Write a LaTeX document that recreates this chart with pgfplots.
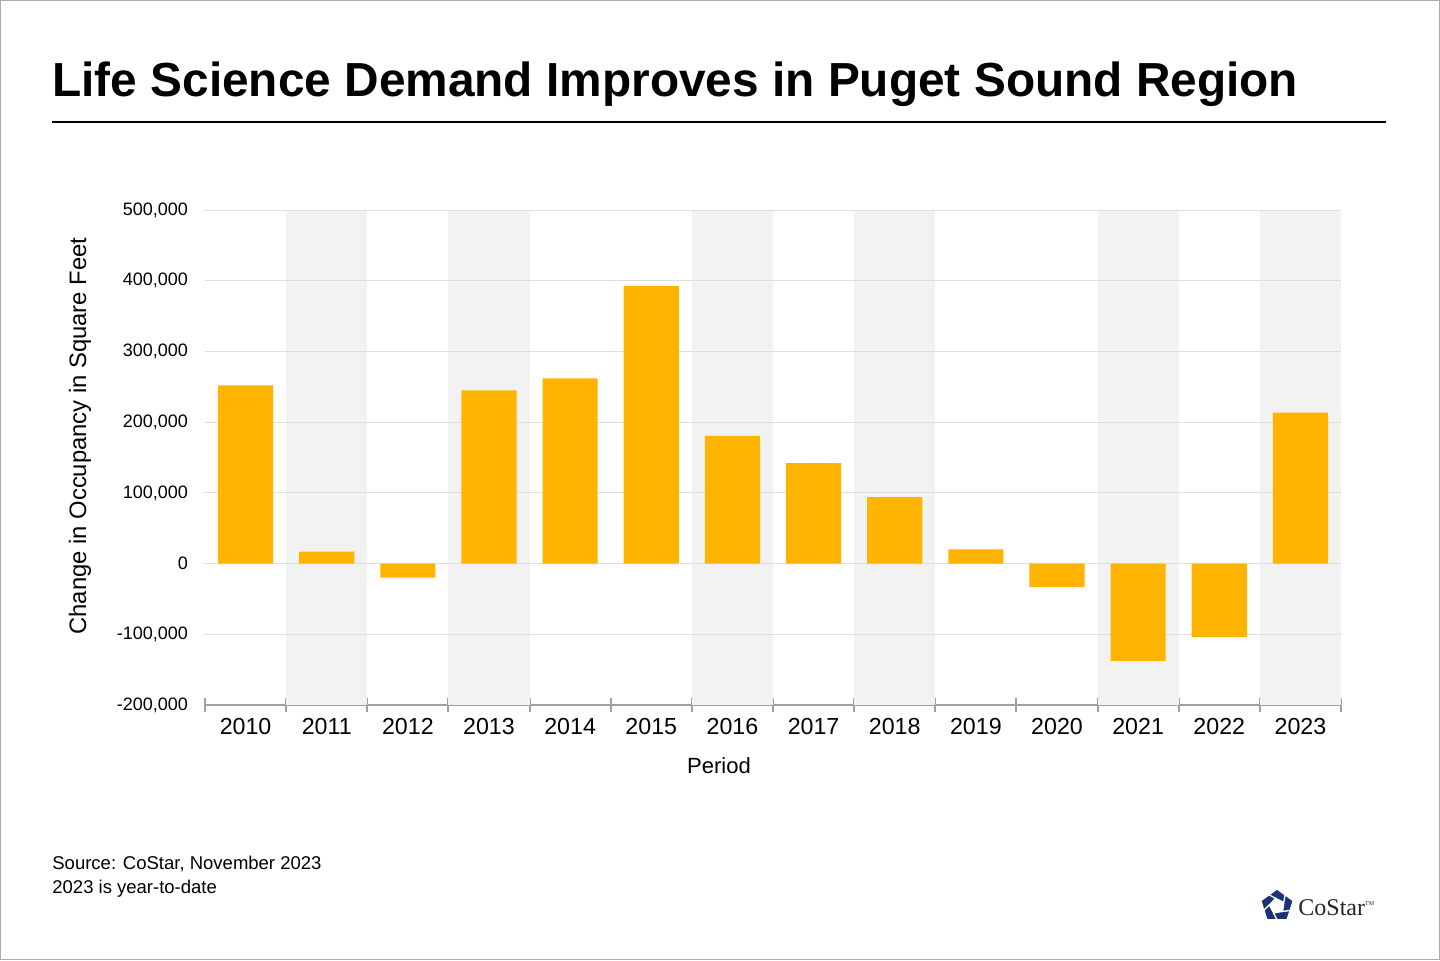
\documentclass[border=0pt]{standalone}
\usepackage{pgfplots}
\pgfplotsset{compat=1.18}
\usepackage{fontspec}
\setmainfont{Liberation Sans}
\newfontfamily\seriffont{Liberation Serif}
\definecolor{barc}{RGB}{255,180,0}
\definecolor{bandc}{RGB}{242,242,242}
\definecolor{gridc}{RGB}{222,222,222}
\definecolor{axc}{RGB}{160,160,160}
\definecolor{navy}{RGB}{28,52,118}
\definecolor{brd}{RGB}{170,170,170}
\begin{document}
\begin{tikzpicture}
\useasboundingbox (0,0) rectangle (720pt,-480pt);
\draw[brd, line width=0.5pt] (0.25pt,-0.25pt) rectangle (719.75pt,-479.75pt);
% title
\node[anchor=base west, inner sep=0pt, font=\fontsize{23.9}{28}\selectfont\bfseries] at (26pt,-48pt) {Life Science Demand Improves in Puget Sound Region};
\draw[black, line width=1pt] (26pt,-61pt) -- (693pt,-61pt);
\begin{axis}[
  at={(102.5pt,-352.5pt)}, anchor=south west,
  scale only axis, width=568pt, height=247.5pt,
  xmin=-0.5, xmax=13.5, ymin=-200000, ymax=500000,
  axis x line*=bottom, axis y line*=left,
  y axis line style={draw=none},
  x axis line style={draw=axc, line width=1pt},
  xtick={0,...,13},
  xticklabels={2010,2011,2012,2013,2014,2015,2016,2017,2018,2019,2020,2021,2022,2023},
  minor xtick={-0.5,0.5,...,13.5},
  tick align=center,
  major tick length=0pt, minor tick length=7pt,
  minor x tick style={draw=axc, line width=1pt},
  ytick={-200000,-100000,0,100000,200000,300000,400000,500000},
  yticklabels={{-200,000},{-100,000},0,{100,000},{200,000},{300,000},{400,000},{500,000}},
  ytick style={draw=none},
  scaled y ticks=false,
  clip=false,
  yticklabel style={font=\fontsize{9}{10}\selectfont, xshift=-5pt},
  xticklabel style={font=\fontsize{11.6}{13}\selectfont, yshift=-3pt},
]
\fill[bandc] (axis cs:0.5,-200000) rectangle (axis cs:1.5,500000);
\fill[bandc] (axis cs:2.5,-200000) rectangle (axis cs:3.5,500000);
\fill[bandc] (axis cs:5.5,-200000) rectangle (axis cs:6.5,500000);
\fill[bandc] (axis cs:7.5,-200000) rectangle (axis cs:8.5,500000);
\fill[bandc] (axis cs:10.5,-200000) rectangle (axis cs:11.5,500000);
\fill[bandc] (axis cs:12.5,-200000) rectangle (axis cs:13.5,500000);
\foreach \g in {-100000,0,100000,200000,300000,400000,500000}{
  \edef\tmp{\noexpand\draw[gridc, line width=0.5pt] (axis cs:-0.5,\g) -- (axis cs:13.5,\g);}\tmp
}
\addplot[ybar, bar width=0.68, fill=barc, draw=none] coordinates {
(0,252000) (1,17000) (2,-20000) (3,245000) (4,262000) (5,392500)
(6,180500) (7,142000) (8,94000) (9,20000) (10,-33000) (11,-137500)
(12,-103500) (13,213500)};
\end{axis}
% axis labels
\node[rotate=90, font=\fontsize{11.9}{13}\selectfont] at (40pt,-218pt) {Change in Occupancy in Square Feet};
\node[font=\fontsize{11}{13}\selectfont] at (359.5pt,-383pt) {Period};
% source
\node[anchor=base west, inner sep=0pt, font=\fontsize{9.25}{10}\selectfont] at (26pt,-434.5pt) {Source: CoStar, November 2023};
\node[anchor=base west, inner sep=0pt, font=\fontsize{9.25}{10}\selectfont] at (26pt,-446.5pt) {2023 is year-to-date};
% logo
\begin{scope}[shift={(638.5pt,-453pt)}]
\foreach \k in {0,1,2,3,4}{
  \pgfmathsetmacro\a{90+72*\k}
  \filldraw[fill=navy, draw=white, line width=0.6pt, line join=miter] (\a-36:6.9pt) -- (\a:8.5pt) -- (\a+36:6.9pt) -- (\a+10:3.9pt) -- (\a-62:3.9pt) -- cycle;
}
\end{scope}
\node[anchor=base west, inner sep=0pt, font=\seriffont\fontsize{12}{14}\selectfont, text=black!85] at (649pt,-457.5pt) {CoStar\raisebox{0.9ex}{\fontsize{3}{4}\selectfont TM}};
\end{tikzpicture}
\end{document}
